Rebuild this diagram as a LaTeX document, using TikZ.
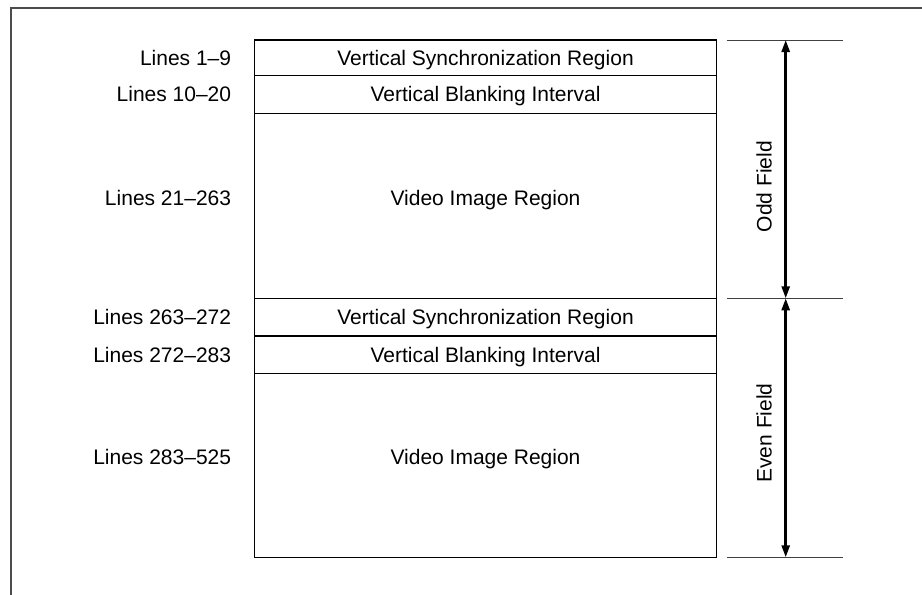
\documentclass[tikz,border=0pt]{standalone}
\usepackage{fontspec}
\setmainfont{Liberation Sans}
\usetikzlibrary{positioning,arrows.meta}

\begin{document}
\begin{tikzpicture}[x=1pt,y=1pt,
  font=\fontsize{21}{25}\selectfont,
  region/.style={draw,line width=1.2pt,minimum width=462.4pt,inner sep=0pt,outer sep=0pt,text depth=0pt,anchor=north},
  linelabel/.style={inner sep=0pt,text depth=0pt},
  tick/.style={line width=1pt,color=black!75},
  fieldarrow/.style={{Triangle[length=12pt,width=8pt]}-{Triangle[length=12pt,width=8pt]},line width=2.5pt}]

\useasboundingbox (0,0) rectangle (922,-595);

% frame, cut off at the right and bottom
\draw[line width=1.5pt,color=black!70] (11,-595) -- (11,-8) -- (922,-8);

% Draw the stacked regions of the frame.
\node[region,minimum height=35.3pt] (sync1) at (485.5,-40) {Vertical Synchronization Region};
\node[region,minimum height=38pt,below=0pt of sync1] (blank1) {Vertical Blanking Interval};
\node[region,minimum height=185pt,below=0pt of blank1] (video1) {};
\node[region,minimum height=37.7pt,below=0pt of video1] (sync2) {Vertical Synchronization Region};
\node[region,minimum height=37.3pt,below=0pt of sync2] (blank2) {Vertical Blanking Interval};
\node[region,minimum height=184pt,below=0pt of blank2] (video2) {};

\node[text depth=0pt,yshift=8pt] (video1text) at (video1.center) {Video Image Region};
\node[text depth=0pt,yshift=8pt] (video2text) at (video2.center) {Video Image Region};

% line numbers on the left
\node[linelabel,left=23pt of sync1] (lab1) {Lines 1--9};
\node[linelabel,left=23pt of blank1] (lab2) {Lines 10--20};
\node[linelabel,left=23pt of video1,yshift=8pt] (lab3) {Lines 21--263};
\node[linelabel,left=23pt of sync2] (lab4) {Lines 263--272};
\node[linelabel,left=23pt of blank2] (lab5) {Lines 272--283};
\node[linelabel,left=23pt of video2,yshift=8pt] (lab6) {Lines 283--525};

% field markers on the right
\coordinate (oddtop) at ([xshift=69pt]sync1.north east);
\coordinate (mid) at ([xshift=69pt]sync2.north east);
\coordinate (evenbot) at ([xshift=69pt]video2.south east);

\draw[tick] ([xshift=-59pt]oddtop) -- ([xshift=57pt]oddtop);
\draw[tick] ([xshift=-59pt]mid) -- ([xshift=57pt]mid);
\draw[tick] ([xshift=-59pt]evenbot) -- ([xshift=57pt]evenbot);

\draw[fieldarrow] (oddtop) -- (mid);
\draw[fieldarrow] (mid) -- (evenbot);

\node[rotate=90] (oddlab) at (764,-186.7) {Odd Field};
\node[rotate=90] (evenlab) at (764,-433) {Even Field};

\end{tikzpicture}
\end{document}
